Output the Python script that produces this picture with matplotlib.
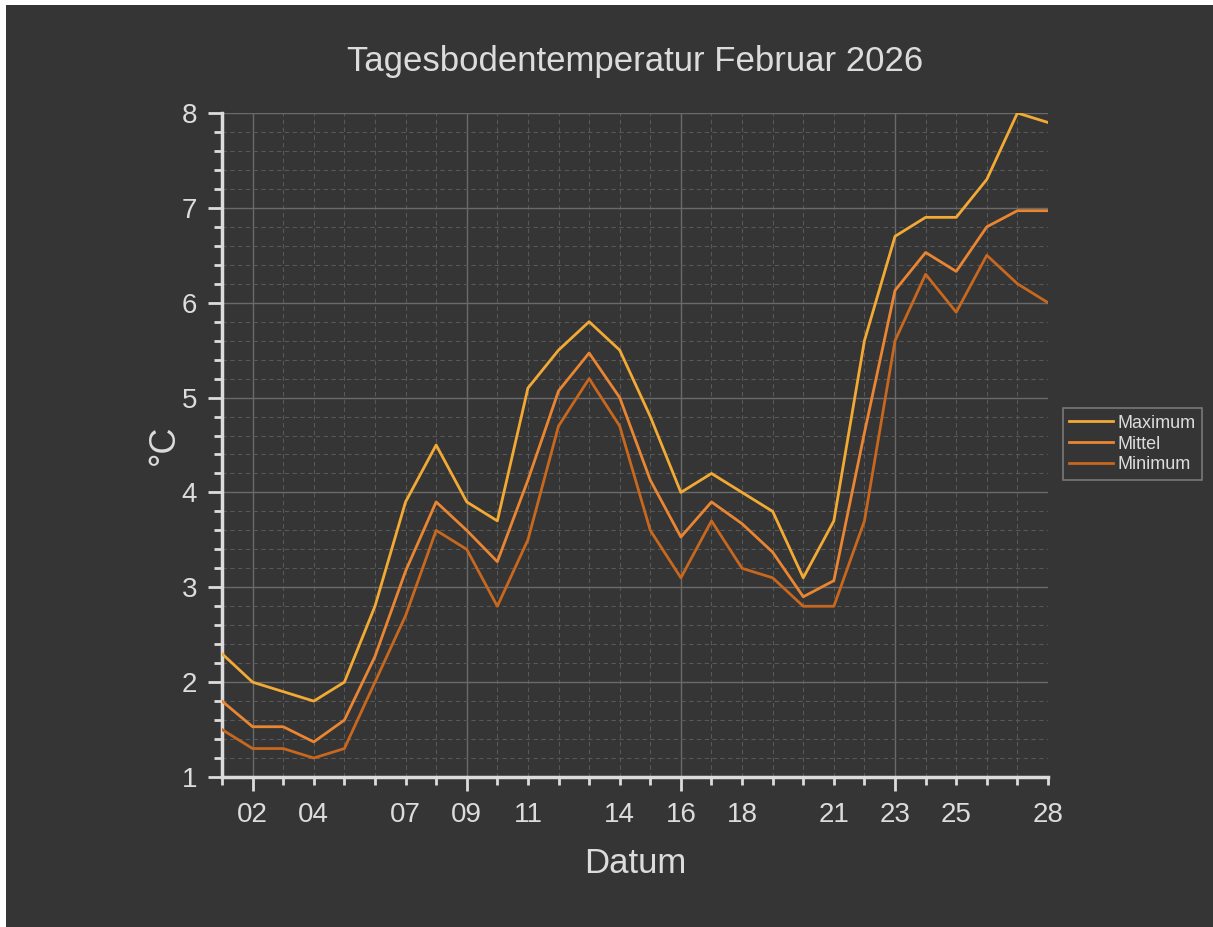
import matplotlib
matplotlib.use("Agg")
import matplotlib.pyplot as plt
from matplotlib.ticker import FixedLocator, FixedFormatter, MultipleLocator
from matplotlib.patches import Rectangle

days = list(range(1, 29))
maximum = [2.3, 2.0, 1.9, 1.8, 2.0, 2.8, 3.9, 4.5, 3.9, 3.7, 5.1, 5.5, 5.8, 5.5,
           4.8, 4.0, 4.2, 4.0, 3.8, 3.1, 3.7, 5.6, 6.7, 6.9, 6.9, 7.3, 8.0, 7.9]
mittel = [1.8, 1.53, 1.53, 1.37, 1.6, 2.27, 3.17, 3.9, 3.6, 3.27, 4.13, 5.07, 5.47, 5.0,
          4.13, 3.53, 3.9, 3.67, 3.37, 2.9, 3.07, 4.63, 6.13, 6.53, 6.33, 6.8, 6.97, 6.97]
minimum = [1.5, 1.3, 1.3, 1.2, 1.3, 2.0, 2.7, 3.6, 3.4, 2.8, 3.5, 4.7, 5.2, 4.7,
           3.6, 3.1, 3.7, 3.2, 3.1, 2.8, 2.8, 3.7, 5.6, 6.3, 5.9, 6.5, 6.2, 6.0]
major_days = [2, 9, 16, 23]
label_days = [2, 4, 7, 9, 11, 14, 16, 18, 21, 23, 25, 28]
series_names = ["Maximum", "Mittel", "Minimum"]
series_colors = ["#f2aa35", "#ea8532", "#c8671e"]
title = "Tagesbodentemperatur Februar 2026"

bg = "#353535"
fg = "#dcdcdc"
plt.rcParams["font.family"] = ["Liberation Sans", "DejaVu Sans"]

fig = plt.figure(figsize=(12.13, 9.27), dpi=100)
fig.patch.set_facecolor("white")
fig.patches.append(Rectangle((6 / 1213, 0), 1, 1 - 5 / 927, transform=fig.transFigure,
                             facecolor=bg, edgecolor="none", zorder=-10))

ax = fig.add_axes([222 / 1213, 1 - 777 / 927, (1048 - 222) / 1213, (777 - 113) / 927])
ax.set_facecolor(bg)

for vals, name, col in zip([maximum, mittel, minimum], series_names, series_colors):
    ax.plot(days, vals, color=col, lw=2.0, label=name, zorder=3)

ax.set_xlim(1, 28)
ax.set_ylim(1, 8)

ax.xaxis.set_major_locator(FixedLocator(major_days))
ax.xaxis.set_major_formatter(FixedFormatter([f"{d:02d}" for d in major_days]))
minor_days = [d for d in days if d not in major_days]
ax.xaxis.set_minor_locator(FixedLocator(minor_days))
ax.xaxis.set_minor_formatter(FixedFormatter([f"{d:02d}" if d in label_days else "" for d in minor_days]))

ax.yaxis.set_major_locator(MultipleLocator(1))
ax.yaxis.set_minor_locator(MultipleLocator(0.2))

ax.grid(which="major", color="#6a6a6a", lw=1.0, ls="-", zorder=1)
ax.grid(which="minor", color="#585858", lw=0.8, ls=(0, (4, 3)), zorder=1)

for s in ["top", "right"]:
    ax.spines[s].set_visible(False)
for s in ["left", "bottom"]:
    ax.spines[s].set_color(fg)
    ax.spines[s].set_linewidth(2.5)

ax.tick_params(which="both", direction="out", color=fg, labelcolor=fg, width=2)
ax.tick_params(which="major", length=10, labelsize=20, pad=8)
ax.tick_params(axis="x", which="minor", length=6, labelsize=20, pad=12)
ax.tick_params(axis="y", which="minor", length=6)

ax.set_title(title, color=fg, fontsize=25, pad=30)
ax.set_xlabel("Datum", color=fg, fontsize=25, labelpad=14)
ax.set_ylabel("°C", color=fg, fontsize=26, labelpad=0)

leg = ax.legend(loc="center left", bbox_to_anchor=(1063 / 1213, 1 - 444 / 927),
                bbox_transform=fig.transFigure, fontsize=13, frameon=True,
                handlelength=2.4, handletextpad=0.25, borderpad=0.35, labelspacing=0.22,
                borderaxespad=0, fancybox=False)
leg.get_frame().set_facecolor(bg)
leg.get_frame().set_edgecolor("#8a8a8a")
leg.get_frame().set_linewidth(1.2)
for t in leg.get_texts():
    t.set_color(fg)

fig.savefig("out.png", dpi=100, facecolor=fig.get_facecolor())
